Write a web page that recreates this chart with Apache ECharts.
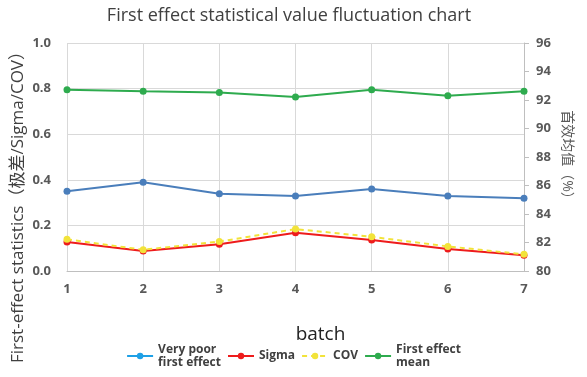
<!DOCTYPE html>
<html>
<head>
<meta charset="utf-8">
<script src="https://cdn.jsdelivr.net/npm/echarts@6/dist/echarts.min.js"></script>
<style>
  html, body { margin: 0; padding: 0; background: #fff; }
  #main { width: 587px; height: 377px; }
</style>
</head>
<body>
<div id="main"></div>
<script>
// Data
const batches = ['1', '2', '3', '4', '5', '6', '7'];
const veryPoor = [0.35, 0.389, 0.339, 0.329, 0.36, 0.329, 0.319];
const sigma = [0.127, 0.088, 0.117, 0.168, 0.136, 0.096, 0.069];
const cov = [0.139, 0.093, 0.129, 0.184, 0.15, 0.108, 0.073];
const effectMean = [92.72, 92.61, 92.52, 92.21, 92.72, 92.3, 92.61];

const font = '"Open Sans", "Noto Sans", "Noto Sans CJK SC", sans-serif';
const labelStyle = { color: '#595959', fontSize: 13, fontWeight: 'bold', fontFamily: font };

const lineSeries = (name, data, color, extra) => ({
  name,
  type: 'line',
  data,
  symbol: 'circle',
  symbolSize: 7,
  itemStyle: { color },
  lineStyle: { color, width: 2 },
  animation: false,
  ...extra
});

const chart = echarts.init(document.getElementById('main'));
chart.setOption({
  backgroundColor: '#fff',
  title: {
    text: 'First effect statistical value fluctuation chart',
    left: 284,
    textAlign: 'center',
    top: 2,
    textStyle: { color: '#404040', fontSize: 18, fontWeight: 'normal', fontFamily: font }
  },
  legend: {
    bottom: 3,
    left: 'center',
    itemWidth: 26,
    itemHeight: 8,
    itemGap: 6,
    textStyle: { color: '#404040', fontSize: 12, fontWeight: 'bold', fontFamily: font, lineHeight: 13, align: 'center' },
    data: [
      { name: 'Very poor\nfirst effect', itemStyle: { color: '#1ea0e6' }, lineStyle: { color: '#1ea0e6' } },
      { name: 'Sigma' },
      { name: 'COV' },
      { name: 'First effect\nmean' }
    ]
  },
  grid: { left: 67, right: 63, top: 43, bottom: 106, outerBoundsMode: 'none' },
  xAxis: {
    type: 'category',
    data: batches,
    boundaryGap: false,
    name: 'batch',
    nameLocation: 'middle',
    nameGap: 54,
    nameMoveOverlap: false,
    nameTextStyle: { color: '#222', fontSize: 19, fontFamily: font, padding: [0, 0, 0, 50] },
    axisLine: { lineStyle: { color: '#bfbfbf' } },
    axisTick: { show: false },
    axisLabel: { ...labelStyle, margin: 12 },
    splitLine: { show: true, lineStyle: { color: '#d9d9d9' } }
  },
  yAxis: [
    {
      type: 'value',
      min: 0,
      max: 1,
      interval: 0.2,
      name: 'First-effect statistics（极差/Sigma/COV）',
      nameLocation: 'middle',
      nameGap: 40,
      nameMoveOverlap: false,
      nameTextStyle: { color: '#404040', fontSize: 17, fontFamily: font, padding: [0, 0, 0, -92] },
      axisLine: { show: false },
      axisTick: { show: false },
      axisLabel: { ...labelStyle, margin: 16, formatter: (v) => v.toFixed(1) },
      splitLine: { lineStyle: { color: '#d9d9d9' } }
    },
    {
      type: 'value',
      min: 80,
      max: 96,
      interval: 2,
      position: 'right',
      name: '首效均值（%）',
      nameLocation: 'middle',
      nameGap: 36,
      nameMoveOverlap: false,
      nameRotate: -90,
      nameTextStyle: { color: '#595959', fontSize: 14, fontFamily: font, padding: [0, 0, 0, 2] },
      axisLine: { show: true, lineStyle: { color: '#bfbfbf' } },
      axisTick: { show: true, length: 5, lineStyle: { color: '#bfbfbf' } },
      axisLabel: { ...labelStyle, margin: 12 },
      splitLine: { show: false }
    }
  ],
  series: [
    lineSeries('Very poor\nfirst effect', veryPoor, '#4a7ebb'),
    lineSeries('Sigma', sigma, '#ee1c1c'),
    lineSeries('COV', cov, '#f2e33a', { lineStyle: { color: '#f2e33a', width: 2, type: [5, 4] } }),
    lineSeries('First effect\nmean', effectMean, '#2eab4e', { yAxisIndex: 1 })
  ]
});
</script>
</body>
</html>
